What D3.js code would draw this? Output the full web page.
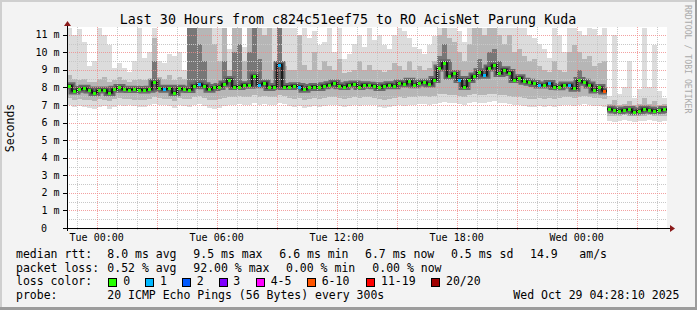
<!DOCTYPE html>
<html>
<head>
<meta charset="utf-8">
<script src="https://cdn.jsdelivr.net/npm/d3@7"></script>
<style>
  body { margin: 0; background: #f3f3f3; }
  svg { display: block; font-family: "DejaVu Sans Mono", monospace; }
</style>
</head>
<body>
<svg id="chart" width="697" height="310"></svg>
<script>
// 15 minute steps, Mon 22:31 -> Wed 04:31
const median = [
  8.1, 7.8, 7.9, 7.95, 7.85, 7.7, 7.85, 7.85, 7.7, 7.9,
  8.0, 7.9, 7.88, 7.9, 7.88, 7.85, 7.9, 8.3, 7.95, 7.9,
  7.95, 7.7, 7.95, 7.9, 7.88, 8.1, 8.2, 8.1, 7.9, 8.0,
  8.05, 8.2, 8.45, 8.05, 8.05, 8.15, 8.12, 8.65, 8.15, 8.25,
  8.0, 8.05, 9.3, 8.05, 8.05, 8.1, 8.05, 7.9, 8.0, 8.05,
  8.0, 8.1, 8.15, 8.25, 8.1, 8.05, 8.15, 8.2, 8.05, 8.15,
  8.12, 8.1, 8.0, 8.1, 8.15, 8.1, 8.25, 8.2, 8.35, 8.15,
  8.25, 8.3, 8.2, 8.45, 9.1, 9.4, 8.65, 8.8, 8.45, 8.05,
  8.45, 8.65, 8.9, 8.7, 9.1, 9.28, 8.8, 9.0, 8.85, 8.45,
  8.55, 8.35, 8.3, 8.23, 8.14, 8.14, 8.23, 8.05, 8.04, 8.14,
  8.14, 7.95, 8.4, 8.3, 8.14, 7.85, 8.0, 7.8, 6.77, 6.72,
  6.67, 6.72, 6.75, 6.62, 6.67, 6.77, 6.72, 6.67, 6.7, 6.75
];

const lossCount = [
  0, 0, 0, 0, 0, 0, 0, 0, 0, 0,
  0, 0, 0, 0, 0, 0, 0, 0, 0, 1,
  0, 0, 0, 0, 0, 0, 1, 0, 0, 0,
  0, 0, 0, 0, 0, 0, 0, 0, 1, 0,
  0, 0, 1, 0, 0, 0, 1, 0, 0, 0,
  0, 0, 0, 0, 0, 0, 0, 0, 0, 0,
  0, 0, 0, 0, 0, 0, 0, 0, 0, 0,
  0, 0, 0, 0, 0, 0, 0, 0, 1, 0,
  0, 0, 0, 1, 0, 0, 0, 0, 0, 0,
  0, 0, 0, 0, 1, 0, 1, 0, 0, 0,
  1, 0, 0, 0, 0, 0, 0, 7, 0, 0,
  0, 0, 0, 0, 0, 0, 0, 0, 0, 0
];

const smokeMax = [
  11.4, 11.0, 11.3, 10.6, 9.2, 9.5, 11.4, 11.0, 10.4, 9.1,
  9.4, 9.1, 8.9, 9.5, 11.4, 9.7, 10.0, 11.4, 9.5, 9.4,
  9.9, 9.8, 10.0, 9.0, 11.4, 11.4, 11.4, 11.4, 11.4, 11.4,
  11.4, 11.4, 10.2, 11.4, 11.4, 10.3, 11.4, 11.4, 11.4, 11.4,
  11.4, 11.4, 11.4, 11.4, 11.4, 11.4, 11.0, 11.4, 10.8, 11.2,
  10.4, 10.6, 11.4, 10.0, 11.4, 9.6, 9.9, 10.5, 11.0, 10.3,
  11.4, 10.7, 11.0, 10.4, 10.2, 11.0, 11.4, 11.2, 10.8, 10.3,
  10.2, 9.9, 10.4, 10.9, 11.4, 11.4, 11.4, 11.4, 11.2, 10.6,
  11.4, 11.4, 11.4, 11.4, 11.4, 11.4, 11.4, 11.4, 11.4, 11.4,
  11.4, 11.4, 11.0, 10.8, 10.5, 10.2, 9.7, 11.4, 11.0, 10.0,
  11.4, 11.4, 11.2, 11.0, 11.4, 11.3, 11.0, 11.4, 7.5, 11.0,
  7.6, 8.0, 9.5, 7.4, 7.9, 11.4, 8.0, 10.4, 7.8, 7.4
];

const smokeHigh = [
  8.7, 8.5, 8.4, 8.5, 8.3, 8.3, 8.5, 8.6, 8.3, 8.4,
  8.6, 8.4, 8.3, 8.4, 8.5, 8.4, 8.5, 10.8, 8.6, 8.5,
  8.7, 8.4, 8.6, 8.5, 11.4, 11.4, 11.4, 11.4, 11.4, 10.5,
  9.5, 11.4, 9.0, 11.4, 11.4, 9.5, 11.4, 11.4, 11.4, 11.0,
  11.4, 9.0, 11.4, 9.2, 9.0, 9.0, 11.0, 9.3, 9.0, 10.0,
  9.0, 9.5, 9.2, 9.0, 9.6, 8.8, 8.9, 9.0, 9.5, 9.0,
  9.3, 9.0, 9.0, 8.9, 9.0, 9.4, 9.2, 9.0, 9.5, 9.0,
  9.2, 9.0, 9.1, 9.5, 11.0, 11.4, 10.8, 10.6, 10.0, 9.5,
  10.5, 11.4, 11.4, 11.0, 11.4, 11.4, 11.0, 10.5, 11.0, 10.0,
  10.2, 9.8, 9.5, 9.6, 9.2, 9.0, 8.9, 9.5, 9.0, 8.9,
  10.0, 10.4, 10.0, 9.6, 9.8, 9.2, 9.4, 9.5, 7.05, 7.3,
  7.0, 7.05, 7.2, 7.0, 7.05, 7.4, 7.05, 7.2, 7.0, 7.05
];

const smokeLow = [
  7.4, 7.3, 7.35, 7.3, 7.3, 7.2, 7.35, 7.3, 7.2, 7.35,
  7.4, 7.35, 7.35, 7.3, 7.3, 7.3, 7.35, 7.45, 7.4, 7.35,
  7.35, 7.25, 7.4, 7.35, 7.35, 7.45, 7.5, 7.4, 7.3, 7.3,
  7.35, 7.4, 7.45, 7.45, 7.5, 7.45, 7.45, 7.55, 7.45, 7.5,
  7.45, 7.45, 7.55, 7.5, 7.4, 7.35, 7.4, 7.3, 7.35, 7.4,
  7.35, 7.4, 7.45, 7.45, 7.4, 7.35, 7.4, 7.45, 7.4, 7.45,
  7.45, 7.4, 7.35, 7.3, 7.35, 7.4, 7.45, 7.4, 7.45, 7.45,
  7.5, 7.5, 7.45, 7.5, 7.6, 7.6, 7.55, 7.55, 7.5, 7.45,
  7.55, 7.6, 7.55, 7.55, 7.6, 7.65, 7.55, 7.55, 7.5, 7.45,
  7.45, 7.4, 7.35, 7.35, 7.4, 7.35, 7.4, 7.35, 7.4, 7.45,
  7.45, 7.4, 7.45, 7.5, 7.45, 7.4, 7.4, 7.35, 6.4, 6.35,
  6.4, 6.45, 6.4, 6.35, 6.4, 6.4, 6.45, 6.4, 6.35, 6.4
];

const smokeMin = [
  7.0, 6.9, 6.95, 6.9, 6.85, 6.8, 6.9, 6.95, 6.8, 6.9,
  7.0, 6.95, 7.0, 6.95, 6.9, 6.9, 7.0, 7.05, 7.0, 7.0,
  6.95, 6.85, 7.0, 6.95, 6.9, 7.0, 7.05, 6.95, 6.85, 6.8,
  6.85, 6.95, 7.0, 7.0, 7.05, 7.0, 7.0, 7.1, 7.0, 7.05,
  7.0, 7.0, 7.1, 7.05, 6.95, 6.9, 6.95, 6.85, 6.9, 6.95,
  6.9, 6.95, 7.0, 7.0, 6.95, 6.9, 6.95, 7.0, 6.95, 7.0,
  7.0, 7.0, 6.9, 6.85, 6.9, 6.95, 7.0, 6.95, 7.0, 7.0,
  7.05, 7.05, 7.0, 7.05, 7.1, 7.15, 7.1, 7.1, 7.05, 7.0,
  7.1, 7.15, 7.1, 7.1, 7.15, 7.2, 7.1, 7.1, 7.05, 7.0,
  7.0, 6.95, 6.9, 6.9, 6.95, 6.9, 6.95, 6.9, 6.95, 7.0,
  7.0, 6.95, 7.0, 7.05, 7.0, 6.95, 6.95, 6.9, 6.1, 6.05,
  6.1, 6.15, 6.1, 6.05, 6.1, 6.1, 6.15, 6.1, 6.05, 6.1
];

// top of the darker smoke columns (null = none)
const darkTop = [
  null, null, null, null, null, null, null, null, null, null,
  null, null, null, null, null, null, null, 9.5, null, null,
  null, null, null, null, 11.4, 11.4, 10.5, 9.5, null, null,
  null, 9.5, null, 10.0, 10.5, null, 10.0, 11.4, 9.6, null,
  null, null, 11.4, null, null, null, null, null, null, null,
  null, null, null, null, null, null, null, null, null, null,
  null, null, null, null, null, null, null, null, null, null,
  null, null, null, null, 9.8, 10.5, 9.5, null, null, null,
  null, null, 9.6, null, 10.0, 10.2, 9.5, null, null, null,
  null, null, null, null, null, null, null, null, null, null,
  null, null, 9.0, null, null, null, null, null, null, null,
  null, null, null, null, null, null, null, null, null, null
];

const segmentStarts = [0, 108];

const yTicks = [0, 1, 2, 3, 4, 5, 6, 7, 8, 9, 10, 11];
const lossLabels = ["0", "1", "2", "3", "4-5", "6-10", "11-19", "20/20"];
const lossColors = ["#26ff00", "#00b8ff", "#0059ff", "#7e00ff", "#ff00ff", "#ff5500", "#ff0000", "#a00000"];
const rttStats = ["8.0 ms avg", "9.5 ms max", "6.6 ms min", "6.7 ms now", "0.5 ms sd", "14.9", "am/s"];
const lossStats = ["0.52 % avg", "92.00 % max", "0.00 % min", "0.00 % now"];
const titleText = "Last 30 Hours from c824c51eef75 to RO AcisNet Parung Kuda";
const probeText = "20 ICMP Echo Pings (56 Bytes) every 300s";
const stampText = "Wed Oct 29 04:28:10 2025";

const svg = d3.select("#chart");
const W = 697, H = 310;
const pL = 67, pR = 667, pT = 27, pB = 228;

const start = new Date(2025, 9, 27, 22, 31);
const end = d3.timeHour.offset(start, 30);
const x = d3.scaleTime().domain([start, end]).range([pL, pR]);
const y = d3.scaleLinear().domain([0, 11.44]).range([pB, pT]);
const stepTime = i => d3.timeMinute.offset(start, 15 * i);

function lossColor(n) {
  if (n <= 3) return lossColors[n];
  if (n <= 5) return lossColors[4];
  if (n <= 10) return lossColors[5];
  if (n <= 19) return lossColors[6];
  return lossColors[7];
}

// frame
svg.append("rect").attr("width", W).attr("height", H).attr("fill", "#f3f3f3");
svg.append("rect").attr("x", 0).attr("y", 0).attr("width", W).attr("height", 2).attr("fill", "#cfcfcf");
svg.append("rect").attr("x", 0).attr("y", 0).attr("width", 2).attr("height", H).attr("fill", "#cfcfcf");
svg.append("rect").attr("x", 0).attr("y", H - 3).attr("width", W).attr("height", 3).attr("fill", "#9c9c9c");
svg.append("rect").attr("x", W - 2).attr("y", 0).attr("width", 2).attr("height", H).attr("fill", "#9c9c9c");

// plot canvas
svg.append("rect").attr("x", pL).attr("y", pT).attr("width", pR - pL).attr("height", pB - pT).attr("fill", "#fff");

const idx = d3.range(median.length);
const px = i => x(stepTime(i));
const pw = i => x(stepTime(i + 1)) - x(stepTime(i));

const data = svg.append("g").attr("shape-rendering", "crispEdges");

function band(lo, hi, color) {
  data.append("g").selectAll("rect")
    .data(idx.filter(i => lo[i] != null && hi[i] != null))
    .join("rect")
    .attr("x", i => px(i))
    .attr("width", i => pw(i))
    .attr("y", i => y(Math.min(hi[i], 11.44)))
    .attr("height", i => y(lo[i]) - y(Math.min(hi[i], 11.44)))
    .attr("fill", color);
}
band(smokeMin, smokeMax, "#dcdcdc");
band(smokeLow, smokeHigh, "#b6b6b6");
band(median, darkTop, "#777777");

// median step lines per segment
const segs = segmentStarts.map((s, k) => {
  const e = k + 1 < segmentStarts.length ? segmentStarts[k + 1] : median.length;
  const pts = d3.range(s, e).map(i => [px(i), y(median[i])]);
  pts.push([px(e - 1) + pw(e - 1), y(median[e - 1])]);
  return pts;
});
const stepLine = d3.line().curve(d3.curveStepAfter);
const medG = svg.append("g");
segs.forEach(pts => {
  medG.append("path").attr("d", stepLine(pts)).attr("fill", "none").attr("stroke", "#6a6a6a").attr("stroke-width", 7);
  medG.append("path").attr("d", stepLine(pts)).attr("fill", "none").attr("stroke", "#3a3a3a").attr("stroke-width", 3);
  medG.append("path").attr("d", stepLine(pts)).attr("fill", "none").attr("stroke", "#000").attr("stroke-width", 1);
});

// grid on top
const grid = svg.append("g").attr("shape-rendering", "crispEdges");
const halfTicks = d3.range(0, 11.5, 0.5).filter(v => v % 1 !== 0);
grid.selectAll(".hmin").data(halfTicks).join("line")
  .attr("x1", pL).attr("x2", pR)
  .attr("y1", d => Math.round(y(d)) + 0.5).attr("y2", d => Math.round(y(d)) + 0.5)
  .attr("stroke", "#c8c8c8").attr("stroke-dasharray", "1,1");
const hours = d3.timeHour.range(start, end);
grid.selectAll(".vmin").data(hours.filter(d => d.getHours() % 3 !== 0)).join("line")
  .attr("y1", pT).attr("y2", pB + 2)
  .attr("x1", d => Math.round(x(d)) + 0.5).attr("x2", d => Math.round(x(d)) + 0.5)
  .attr("stroke", "#c8c8c8").attr("stroke-dasharray", "1,1");
grid.selectAll(".hmaj").data(yTicks.slice(1)).join("line")
  .attr("x1", pL).attr("x2", pR)
  .attr("y1", d => Math.round(y(d)) + 0.5).attr("y2", d => Math.round(y(d)) + 0.5)
  .attr("stroke", "#f08a8a").attr("stroke-opacity", 0.8).attr("stroke-dasharray", "1,1");
grid.selectAll(".vmaj").data(d3.timeHour.every(3).range(start, end)).join("line")
  .attr("y1", pT).attr("y2", pB + 3)
  .attr("x1", d => Math.round(x(d)) + 0.5).attr("x2", d => Math.round(x(d)) + 0.5)
  .attr("stroke", "#f08a8a").attr("stroke-opacity", 0.8).attr("stroke-dasharray", "1,1");
grid.selectAll(".ytk").data(yTicks).join("line")
  .attr("x1", pL - 4).attr("x2", pL)
  .attr("y1", d => Math.round(y(d)) + 0.5).attr("y2", d => Math.round(y(d)) + 0.5)
  .attr("stroke", "#000");

// green / loss coloured median marks
svg.append("g").attr("shape-rendering", "crispEdges").selectAll("rect")
  .data(idx).join("rect")
  .attr("x", i => Math.round(px(i)) + 1)
  .attr("width", 3)
  .attr("y", i => Math.round(y(median[i])) - 1.5)
  .attr("height", 3)
  .attr("fill", i => lossColor(lossCount[i]));

// axes
const ax = svg.append("g").attr("shape-rendering", "crispEdges");
ax.append("line").attr("x1", pL + 0.5).attr("x2", pL + 0.5).attr("y1", pT - 2).attr("y2", pB + 3).attr("stroke", "#000");
ax.append("line").attr("x1", pL - 3).attr("x2", pR + 4).attr("y1", pB + 0.5).attr("y2", pB + 0.5).attr("stroke", "#000");
svg.append("path").attr("d", `M${pL - 3},${pT - 1}L${pL + 4},${pT - 1}L${pL + 0.5},${pT - 6}Z`).attr("fill", "#8b1a1a");
svg.append("path").attr("d", `M${pR + 3},${pB - 3}L${pR + 3},${pB + 4}L${pR + 8},${pB + 0.5}Z`).attr("fill", "#8b1a1a");

// y labels
svg.append("g").selectAll("text").data(yTicks).join("text")
  .attr("x", d => d === 0 ? 47 : 59.5)
  .attr("y", d => y(d) + 3.6)
  .attr("text-anchor", "end")
  .attr("font-size", 10)
  .attr("fill", "#000")
  .text(d => d === 0 ? "0" : d + " m");

// x labels
const fmt = d3.timeFormat("%a %H:%M");
svg.append("g").selectAll("text").data(d3.timeHour.every(6).range(start, end)).join("text")
  .attr("x", d => x(d))
  .attr("y", 241)
  .attr("text-anchor", "middle")
  .attr("font-size", 10)
  .text(d => fmt(d));

// y title
svg.append("text").attr("transform", "translate(14,128) rotate(-90)")
  .attr("text-anchor", "middle").attr("font-size", 11.5).text("Seconds");

// title
svg.append("text").attr("x", 348).attr("y", 24).attr("text-anchor", "middle")
  .attr("font-size", 13.3).text(titleText);

// watermark
svg.append("text").attr("transform", "translate(685,5) rotate(90)")
  .attr("font-size", 8.2).attr("fill", "#aaaaaa").text("RRDTOOL / TOBI OETIKER");

// legend
const fs = 11.5;
const leg = svg.append("g").attr("font-size", fs);
leg.append("text").attr("x", 16).attr("y", 258).text("median rtt:");
[107.3, 193.3, 279.3, 365, 451, 530, 579.3].forEach((xx, k) =>
  leg.append("text").attr("x", xx).attr("y", 258).text(rttStats[k]));
leg.append("text").attr("x", 16).attr("y", 271.5).text("packet loss:");
[107.3, 193.3, 286, 372.3].forEach((xx, k) =>
  leg.append("text").attr("x", xx).attr("y", 271.5).text(lossStats[k]));
leg.append("text").attr("x", 16).attr("y", 285).text("loss color:");
const boxX = [108.5, 145.5, 182.5, 219.5, 256, 307.5, 366, 431];
const labX = [123.3, 160, 196.7, 233.3, 270.7, 321.7, 381, 446];
lossLabels.forEach((lab, k) => {
  leg.append("rect").attr("x", boxX[k]).attr("y", 278.5).attr("width", 8).attr("height", 8)
    .attr("fill", lossColors[k]).attr("stroke", "#000").attr("stroke-width", 1)
    .attr("shape-rendering", "crispEdges");
  leg.append("text").attr("x", labX[k]).attr("y", 285).text(lab);
});
leg.append("text").attr("x", 16).attr("y", 299).text("probe:");
leg.append("text").attr("x", 107.3).attr("y", 299).text(probeText);
leg.append("text").attr("x", 513.3).attr("y", 299).text(stampText);
</script>
</body>
</html>
